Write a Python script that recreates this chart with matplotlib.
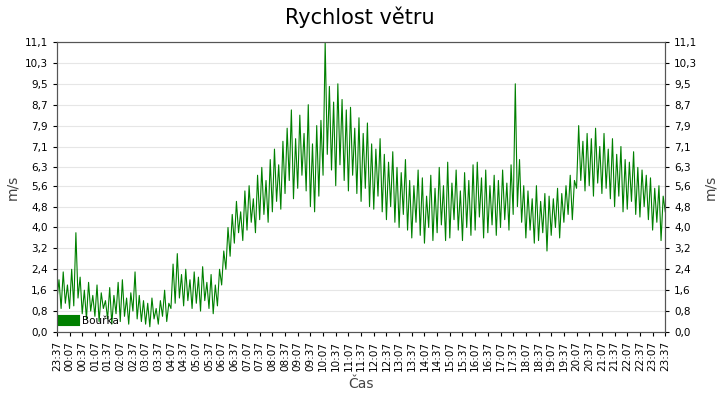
import matplotlib
matplotlib.use("Agg")
import matplotlib.pyplot as plt
import numpy as np

series_name = "Bouřka"
speed = [
1.2,2.0,0.9,2.3,1.1,1.8, 0.9,2.4,1.0,3.8,1.3,2.1, 0.7,1.6,0.5,1.9,0.8,1.4,
0.6,1.8,0.4,1.5,0.9,1.2, 0.5,1.7,0.3,1.4,0.7,1.9, 0.4,2.0,0.6,1.3,0.3,1.5,
0.8,2.3,0.5,1.4,0.4,1.2, 0.3,1.1,0.2,1.3,0.5,0.9, 0.3,1.2,0.6,1.6,0.4,1.1,
0.9,2.6,1.1,3.0,1.3,2.2, 1.0,2.4,1.2,2.0,0.9,2.3, 1.1,2.1,0.8,2.5,1.2,1.9,
0.9,2.2,0.7,1.8,1.0,2.4, 1.8,3.1,2.4,4.0,2.9,4.5, 3.4,5.0,3.8,4.6,3.5,5.4,
3.9,5.6,4.2,5.1,3.8,6.0, 4.3,6.3,4.5,5.8,4.2,6.6, 4.6,7.0,5.0,6.4,4.7,7.3,
5.3,7.8,5.8,8.5,5.1,7.4, 5.5,8.3,6.0,7.6,5.4,8.7, 4.8,7.2,4.6,7.9,5.2,8.1,
6.0,11.1,6.8,9.4,6.2,8.8, 5.6,9.5,6.4,8.9,5.8,8.5, 5.4,8.6,6.0,7.8,5.3,8.2,
5.0,7.6,5.5,8.0,4.8,7.2, 4.7,7.0,5.2,7.4,4.6,6.8, 4.3,6.5,4.8,6.9,4.2,6.3,
4.0,6.1,4.5,6.6,3.9,5.8, 3.6,5.6,4.2,6.2,3.7,5.9, 3.4,5.2,4.0,6.0,3.5,5.5,
3.8,6.3,4.1,5.6,3.5,6.5, 3.6,5.7,4.3,6.2,3.9,5.4, 3.5,6.1,4.0,5.8,3.7,6.4,
3.9,6.5,4.4,5.9,3.6,6.2, 3.8,5.6,4.1,6.0,3.7,5.8, 4.0,6.2,4.3,5.7,3.9,6.4,
4.5,9.5,4.8,6.6,4.2,5.6, 3.6,5.4,3.9,5.1,3.4,5.6, 3.5,5.0,3.8,5.3,3.1,5.2,
3.7,5.1,4.0,5.5,3.6,5.3, 4.2,5.6,4.5,6.0,4.3,5.8, 5.5,7.9,5.8,7.3,5.4,7.6,
5.6,7.4,5.2,7.8,5.7,7.1, 5.3,7.6,5.5,7.0,5.1,7.4, 4.8,6.8,5.2,7.1,4.6,6.6,
4.7,6.5,5.0,6.9,4.5,6.3, 4.4,6.2,4.8,6.0,4.3,5.9, 3.9,5.5,4.2,5.6,3.5,5.2,
4.6]
step_min = 5
y_ticks = [0.0, 0.8, 1.6, 2.4, 3.2, 4.0, 4.8, 5.6, 6.3, 7.1, 7.9, 8.7, 9.5, 10.3, 11.1]
x_labels = ["23:37"] + ["%02d:%s" % (h, m) for h in range(24) for m in ("07", "37")][:-1]
x_labels = ["23:37"] + [f"{(h)%24:02d}:{m}" for h in range(0, 24) for m in ("07", "37")]
x_labels = x_labels[:49]

t = np.arange(len(speed)) * step_min
fig = plt.figure(figsize=(7.2, 4), dpi=100)
ax = fig.add_axes([0.079, 0.17, 0.845, 0.725])
ax.plot(t, speed, color="#008000", lw=0.8, label=series_name)
ax.set_xlim(0, 1440)
ax.set_ylim(0, 11.1)
ax.set_yticks(y_ticks)
fmt = [f"{v:.1f}".replace(".", ",") for v in y_ticks]
ax.set_yticklabels(fmt, fontsize=7.5)
ax.set_xticks(np.arange(len(x_labels)) * 30)
ax.set_xticklabels(x_labels, rotation=90, fontsize=7.5)
ax.grid(axis="y", color="#e6e6e6", lw=0.8)
ax.set_axisbelow(True)
ax.tick_params(length=3)
ax.set_ylabel("m/s", fontsize=10, color="#444444")
ax.set_xlabel("Čas", fontsize=10, color="#444444")
ax2 = ax.twinx()
ax2.set_ylim(0, 11.1)
ax2.set_yticks(y_ticks)
ax2.set_yticklabels(fmt, fontsize=7.5)
ax2.set_ylabel("m/s", fontsize=10, color="#444444")
ax2.tick_params(length=3)
for a in (ax, ax2):
    for s in a.spines.values():
        s.set_color("#555555")
fig.text(0.5, 0.94, "Rychlost větru", ha="center", fontsize=15)
leg = ax.legend(loc="lower left", fontsize=7.5, frameon=False, handlelength=1.0,
                handleheight=1.0, borderaxespad=0.2)
for h in leg.legend_handles:
    h.set_linewidth(8)
fig.savefig("out.png", dpi=100)
